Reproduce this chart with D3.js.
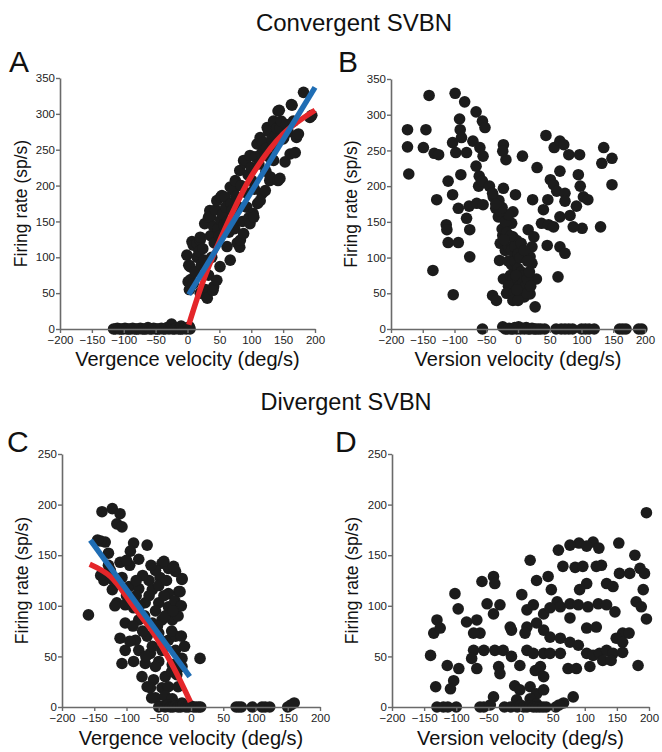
<!DOCTYPE html>
<html><head><meta charset="utf-8">
<script src="https://cdn.jsdelivr.net/npm/d3@7"></script>
<style>
body{margin:0;background:#fff;}
text{font-family:"Liberation Sans",Arial,Helvetica,sans-serif;}
</style></head>
<body>
<svg id="chart" width="662" height="752"></svg>
<script>
// ---------------- DATA ----------------
const xTicks = [-200,-150,-100,-50,0,50,100,150,200];
const yTicksConv = [0,50,100,150,200,250,300,350];
const yTicksDiv = [0,50,100,150,200,250];
const titles = ["Convergent SVBN","Divergent SVBN"];
const panelLetters = ["A","B","C","D"];
const yLabel = "Firing rate (sp/s)";
const xLabels = ["Vergence velocity (deg/s)","Version velocity (deg/s)"];

// Panel A: vergence velocity vs firing rate (convergent SVBN)
const pointsA = [
[-116,0],[-113,0],[-110,1],[-107,0],[-104,0],[-101,0],[-98,1],[-95,0],[-92,0],[-89,0],[-86,1],[-83,0],[-80,0],[-77,0],[-74,1],[-71,0],[-68,0],[-65,0],[-62,2],[-59,0],[-56,0],[-53,1],[-50,0],[-47,0],[-44,0],[-41,1],[-38,0],[-35,0],[-32,2],[-29,0],[-26,1],[-25,7],[-23,0],[-20,0],[-17,1],[-14,0],[-11,0],[-10,4],[-8,0],[-5,1],[-2,0],[1,2],[3,3],[4,0],
[-1,103],[2,89],[4,87],[1,66],[5,69],[3,55],[7,122],[9,117],[9,63],[12,80],[15,119],[15,100],[18,108],[20,124],[20,128],[20,50],[22,90],[24,112],[26,96],[27,147],[28,55],[30,45],[31,43],[33,156],[33,75],[35,165],[36,130],[36,156],[38,100],[40,54],[41,59],[41,143],[42,120],[44,166],[46,179],[46,68],[48,140],[50,130],[51,87],[52,184],[52,152],[54,186],[55,160],[57,145],[59,184],[60,170],[62,115],[63,150],[65,135],[67,96],[67,198],[68,175],[70,165],[72,152],[72,193],[74,140],[75,207],[76,185],[78,120],[80,170],[82,221],[82,114],[83,124],[84,200],[86,150],[88,235],[88,133],[90,232],[91,235],[92,190],[93,170],[95,215],[96,155],[98,242],[98,147],[100,225],[101,207],[103,161],[104,156],[105,195],[106,240],[109,258],[110,175],[112,230],[114,267],[114,179],[116,245],[117,189],[118,260],[120,249],[122,193],[123,220],[124,252],[125,281],[127,276],[128,240],[129,207],[130,212],[132,265],[134,255],[135,235],[135,290],[138,270],[140,280],[142,304],[142,207],[144,305],[145,210],[145,280],[147,290],[150,265],[151,267],[153,233],[155,285],[158,275],[161,244],[163,313],[164,312],[166,290],[169,246],[171,267],[174,272],[182,330],[192,295],[195,298]
];
const linearFitA = [[2,48],[200,337]];
const curveFitA = [[2,6],[25,68],[50,122],[100,213],[150,272],[200,305]];

// Panel B: version velocity vs firing rate (convergent SVBN)
const pointsB = [
[-140,327],[-99,330],[-84,318],[-66,304],[-56,291],[-52,282],[-174,279],[-145,279],[-92,294],[-91,279],[-174,255],[-149,254],[-172,217],[-132,246],[-125,244],[-103,261],[-98,247],[-89,268],[-81,247],[-71,263],[-60,254],[-55,242],[-66,228],[-61,214],[-62,200],[-56,207],[-90,216],[-110,207],[-103,188],[-94,169],[-128,181],[-113,146],[-112,139],[-110,121],[-94,121],[-81,155],[-76,139],[-77,172],[-65,176],[-55,174],[-76,101],[-134,82],[-102,48],[-45,200],[-39,185],[-35,169],[-31,157],[-24,131],[-28,120],[-23,258],[-19,237],[-24,249],[-23,197],[-4,188],[-8,164],[-10,148],[-8,129],[-2,124],[16,139],[25,129],[22,115],[19,101],[22,92],[-29,96],[-23,70],[-40,47],[-34,40],[-4,102],[-5,82],[1,68],[-10,59],[6,54],[19,49],[29,70],[27,31],[-5,45],[7,242],[30,226],[23,181],[40,167],[37,148],[46,117],[47,181],[44,271],[57,254],[66,263],[72,258],[80,244],[97,244],[66,221],[51,209],[56,202],[61,193],[74,190],[95,216],[98,200],[103,185],[110,181],[74,179],[66,157],[48,146],[56,143],[82,159],[101,141],[66,115],[74,106],[63,73],[135,254],[132,232],[148,239],[148,202],[130,143],[87,143],[92,172],
[-15,95],[-10,90],[-5,95],[0,85],[5,80],[10,75],[-12,75],[-8,70],[-3,75],[2,60],[8,65],[12,60],[15,70],[-15,60],[-18,50],[-6,50],[4,45],[10,45],[14,50],[18,80],[20,60],[-20,110],[-15,115],[-10,110],[-5,115],[0,105],[3,100],[-25,140],[-20,150],[-15,160],[-28,165],[-30,180],[-25,170],[-18,135],[-12,130],[-22,125],[-35,175],[-40,190],[5,120],[10,110],[15,95],[-8,40],[0,40],[-2,55],
[-56,0],[-24,3],[-20,0],[-17,0],[-14,1],[-11,0],[-8,0],[-5,2],[-2,0],[1,3],[4,0],[7,1],[10,0],[13,2],[16,0],[19,0],[22,1],[25,0],[28,0],[32,0],[36,0],[42,0],[60,0],[68,0],[74,0],[80,0],[86,0],[100,0],[106,0],[112,0],[120,0],[160,0],[165,0],[170,0],[190,0],[195,0]
];

// Panel C: vergence velocity vs firing rate (divergent SVBN)
const pointsC = [
[-159,91],[-138,193],[-122,196],[-110,191],[-115,181],[-107,178],[-133,163],[-140,164],[-89,162],[-68,160],[-128,152],[-110,143],[-94,154],[-81,146],[-45,142],[-35,137],[-48,128],[-24,134],[-14,127],[-19,114],[-135,125],[-122,116],[-125,135],[-107,128],[-96,119],[-81,117],[-65,125],[-60,116],[-35,112],[-115,103],[-102,101],[-89,98],[-71,103],[-50,103],[-35,99],[-102,83],[-81,86],[-60,83],[-45,86],[-29,86],[-110,68],[-86,66],[-68,70],[-50,73],[-35,66],[-24,70],[-102,56],[-81,56],[-63,53],[-45,56],[-24,56],[-14,48],[14,48],[-107,43],[-89,45],[-71,43],[-50,45],[-29,42],[-14,40],[-76,30],[-58,27],[-40,30],[-22,32],[-63,19],[-45,19],[-35,20],[-55,9],[-40,11],[-29,8],[-14,4],[-68,20],[-61,9],[-42,144],[-27,139],[-17,114],[-14,126],
[-55,135],[-50,120],[-42,110],[-75,130],[-85,125],[-95,140],[-100,110],[-90,80],[-75,75],[-55,95],[-40,90],[-30,75],[-20,90],[-15,70],[-10,60],[-20,20],[-30,35],[-60,60],[-70,50],[-80,100],[-65,110],[-45,65],[-55,40],[-25,105],[-15,100],[-120,125],[-128,140],[-140,130],[-145,165],[-118,100],[-95,65],[-100,145],[-38,125],[-28,95],[-52,80],[-62,140],[-72,90],[-85,110],
[-50,0],[-45,1],[-40,0],[-36,2],[-32,0],[-28,0],[-24,1],[-20,0],[-16,0],[-12,2],[-8,0],[-4,0],[0,1],[4,0],[8,0],[12,0],[15,0],[70,0],[74,0],[78,0],[95,0],[110,0],[115,0],[122,0],[150,0],[155,2],[160,4]
];
const linearFitC = [[-156,165],[-2,30]];
const curveFitC = [[-157,141],[-125,129],[-89,99],[-58,73],[-27,39],[-1,5]];

// Panel D: version velocity vs firing rate (divergent SVBN)
const pointsD = [
[196,192],[153,162],[91,162],[113,163],[77,160],[178,150],[59,155],[15,145],[122,157],[103,159],[66,139],[85,138],[97,139],[118,139],[126,140],[154,132],[186,137],[193,132],[170,132],[25,125],[43,129],[-60,124],[-42,129],[-40,122],[103,122],[92,116],[191,116],[134,122],[144,119],[48,116],[2,111],[-102,112],[-97,97],[180,104],[188,99],[196,87],[-52,102],[-32,101],[-42,92],[10,96],[20,101],[36,92],[57,104],[62,99],[77,102],[90,101],[105,99],[121,102],[134,101],[147,94],[46,98],[77,88],[103,78],[118,79],[159,73],[169,73],[-130,86],[-135,73],[-125,78],[-84,84],[-68,86],[-63,73],[-73,73],[-16,79],[-14,76],[10,79],[7,73],[25,83],[36,76],[46,69],[62,68],[77,64],[90,61],[149,68],[159,64],[-140,51],[-73,56],[-57,56],[-40,56],[-27,56],[-14,50],[-1,41],[10,56],[20,53],[36,53],[46,53],[62,53],[103,53],[113,51],[123,53],[134,56],[144,53],[159,54],[183,41],[-76,48],[-68,38],[-114,41],[-96,38],[-34,40],[-32,33],[23,36],[31,40],[74,38],[87,38],[108,40],[128,46],[141,46],[36,30],[-9,21],[-132,20],[-104,26],[-109,18],[-42,10],[-1,17],[15,20],[25,13],[36,17],[82,10],[67,4],[-6,7],[15,8],[25,3],
[-130,0],[-120,0],[-113,0],[-100,0],[-63,0],[-57,0],[-47,2],[-25,0],[-15,0],[-5,0],[0,2],[5,0],[10,0],[15,1],[20,0],[25,0],[30,0],[35,0],[40,0],[55,0],[60,2]
];

// ---------------- DRAW ----------------
const svg = d3.select("#chart");
const FONT = '"Liberation Sans",Arial,Helvetica,sans-serif';
const BLUE = "#1f6db4", RED = "#e4262a", DOT = "#1c1c1c", AXIS = "#6a6a6a";

const panels = [
  {letter:panelLetters[0], pts:pointsA, yTicks:yTicksConv, xlab:xLabels[0], x0:60, x1:315, yTop:78, yBot:329, lx:9, ly:72, ylabX:27, xlabY:366, lin:linearFitA, cur:curveFitA},
  {letter:panelLetters[1], pts:pointsB, yTicks:yTicksConv, xlab:xLabels[1], x0:391, x1:645, yTop:79, yBot:329, lx:338, ly:72, ylabX:357, xlabY:366},
  {letter:panelLetters[2], pts:pointsC, yTicks:yTicksDiv, xlab:xLabels[0], x0:62, x1:320, yTop:454, yBot:707, lx:7, ly:452, ylabX:28, xlabY:745, lin:linearFitC, cur:curveFitC},
  {letter:panelLetters[3], pts:pointsD, yTicks:yTicksDiv, xlab:xLabels[1], x0:392, x1:649, yTop:454, yBot:707, lx:335, ly:452, ylabX:358, xlabY:745}
];

svg.append("text").attr("x",354).attr("y",31).attr("text-anchor","middle")
  .style("font-size","24px").attr("fill","#111").text(titles[0]);
svg.append("text").attr("x",346).attr("y",410).attr("text-anchor","middle")
  .style("font-size","23.5px").attr("fill","#111").text(titles[1]);

panels.forEach(p => {
  const yMax = d3.max(p.yTicks);
  const x = d3.scaleLinear().domain([-200,200]).range([p.x0,p.x1]);
  const y = d3.scaleLinear().domain([0,yMax]).range([p.yBot,p.yTop]);
  const g = svg.append("g");

  // points
  g.append("g").selectAll("circle").data(p.pts).join("circle")
    .attr("cx",d=>x(d[0])).attr("cy",d=>y(d[1])).attr("r",5.8).attr("fill",DOT);

  // axes
  const xa = g.append("g").attr("transform",`translate(0,${p.yBot})`)
    .call(d3.axisBottom(x).tickValues(xTicks).tickSize(4).tickSizeOuter(0).tickPadding(3));
  const ya = g.append("g").attr("transform",`translate(${p.x0},0)`)
    .call(d3.axisLeft(y).tickValues(p.yTicks).tickSize(4).tickSizeOuter(0).tickPadding(1));
  [xa,ya].forEach(a=>{
    a.select(".domain").attr("stroke",AXIS).attr("stroke-width",1.6);
    a.selectAll(".tick line").attr("stroke",AXIS).attr("stroke-width",1.4);
    a.selectAll(".tick text").attr("fill","#222").style("font-size","11.5px").style("font-family",FONT);
  });

  // fits
  const line = d3.line().x(d=>x(d[0])).y(d=>y(d[1])).curve(d3.curveCatmullRom);
  if (p.cur) g.append("path").attr("d",line(p.cur)).attr("fill","none").attr("stroke",RED).attr("stroke-width",5.5);
  if (p.lin) g.append("path").attr("d",line(p.lin)).attr("fill","none").attr("stroke",BLUE).attr("stroke-width",5.5);

  // labels
  g.append("text").attr("x",p.lx).attr("y",p.ly).style("font-size","30px").attr("fill","#111").text(p.letter);
  g.append("text").attr("transform",`translate(${p.ylabX},${(p.yTop+p.yBot)/2}) rotate(-90)`)
    .attr("text-anchor","middle").style("font-size","17.5px").attr("fill","#111").text(yLabel);
  g.append("text").attr("x",(p.x0+p.x1)/2).attr("y",p.xlabY).attr("text-anchor","middle")
    .style("font-size","20px").attr("fill","#111").text(p.xlab);
});
</script>
</body></html>
